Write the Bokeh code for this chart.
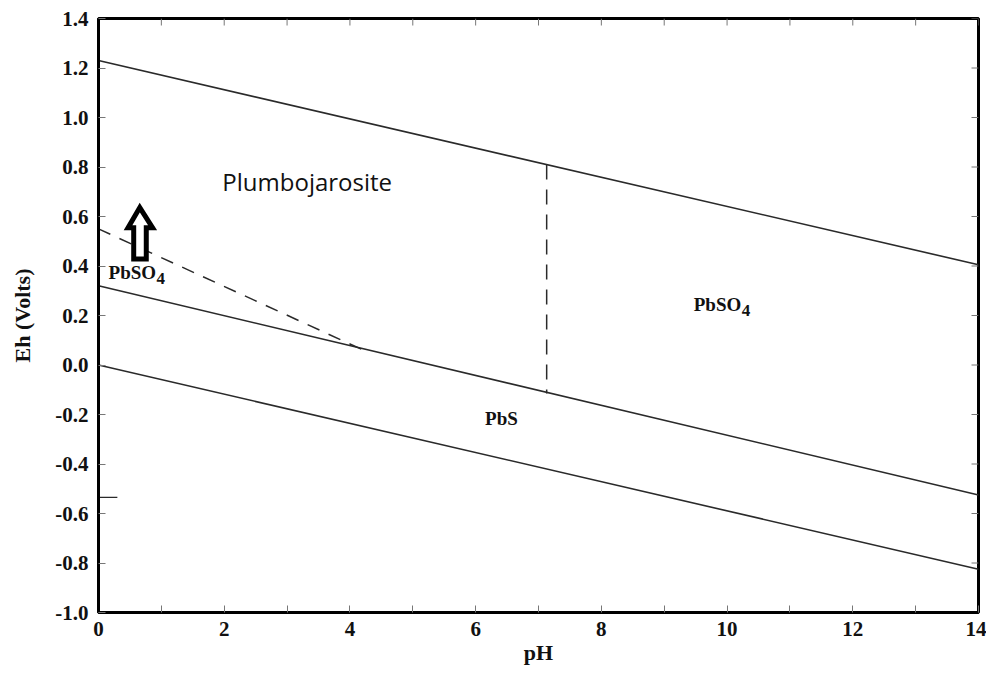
import math
from bokeh.plotting import figure
from bokeh.models import FixedTicker, PrintfTickFormatter, ColumnDataSource
from bokeh.core.properties import value
from bokeh.embed import file_html
from bokeh.resources import INLINE

# ---- data ----
x_ticks = [0, 2, 4, 6, 8, 10, 12, 14]
x_minor = [1, 3, 5, 7, 9, 11, 13]
y_ticks = [-1.0, -0.8, -0.6, -0.4, -0.2, 0.0, 0.2, 0.4, 0.6, 0.8, 1.0, 1.2, 1.4]

top_x = [0, 14]
top_y = [1.23, 0.405]
mid_x = [0, 14]
mid_y = [0.32, -0.525]
low_x = [0, 14]
low_y = [0.0, -0.825]
dash_diag_x = [0, 4.3]
dash_diag_y = [0.55, 0.05]
dash_vert_x = [7.13, 7.13]
dash_vert_y = [0.81, -0.115]
stub_x = [0, 0.3]
stub_y = [-0.535, -0.535]

arrow_x = [0.657, 0.86, 0.76, 0.76, 0.56, 0.56, 0.47]
arrow_y = [0.636, 0.555, 0.555, 0.428, 0.428, 0.555, 0.555]

label_names = ["PbSO", "PbSO", "PbS"]
label_x = [0.16, 9.47, 6.15]
label_y = [0.374, 0.244, -0.216]
sub_x = [0.16, 9.47]
sub_y = [0.374, 0.244]

title_text = ["Plumbojarosite"]
title_x = [1.97]
title_y = [0.741]

X_MIN, X_MAX = 0, 14
Y_MIN, Y_MAX = -1.0, 1.4

SERIF = "Liberation Serif"

p = figure(frame_width=880, frame_height=594,
           x_range=(X_MIN, X_MAX), y_range=(Y_MIN, Y_MAX),
           output_backend="svg", toolbar_location=None,
           x_axis_label="pH", y_axis_label="Eh (Volts)",
           min_border_left=98, min_border_right=8, min_border_top=18, min_border_bottom=0)
p.grid.visible = False
p.outline_line_color = "black"
p.outline_line_width = 3
p.background_fill_color = "white"
p.border_fill_color = "white"


def style(ax):
    ax.axis_line_color = "black"
    ax.axis_line_width = 3
    ax.major_tick_in = 7
    ax.major_tick_out = 0
    ax.minor_tick_in = 7
    ax.minor_tick_out = 0
    ax.major_tick_line_color = "#777777"
    ax.minor_tick_line_color = "#777777"
    ax.major_tick_line_width = 1
    ax.minor_tick_line_width = 1
    ax.major_label_text_font = SERIF
    ax.major_label_text_font_style = "bold"
    ax.major_label_text_font_size = "21px"
    ax.major_label_text_color = "#111111"
    ax.axis_label_text_font = SERIF
    ax.axis_label_text_font_style = "bold"
    ax.axis_label_text_font_size = "22px"
    ax.axis_label_text_color = "#111111"


xa = p.xaxis[0]
xa.ticker = FixedTicker(ticks=x_ticks, minor_ticks=x_minor)
style(xa)
xa.major_label_standoff = 9
xa.axis_label_standoff = 1

ya = p.yaxis[0]
ya.ticker = FixedTicker(ticks=y_ticks)
ya.formatter = PrintfTickFormatter(format="%.1f")
style(ya)
ya.major_label_standoff = 10
ya.axis_label_standoff = 17

# inner ticks on the top and right frame edges, from the tick arrays
top_tick_x = x_ticks + x_minor
p.ray(x=top_tick_x, y=[Y_MAX] * len(top_tick_x), length=7, length_units="screen",
      angle=-math.pi / 2, line_color="#777777", line_width=1)
p.ray(x=[X_MAX] * len(y_ticks), y=y_ticks, length=7, length_units="screen",
      angle=math.pi, line_color="#777777", line_width=1)

lc = "#2a2a2a"
p.line(top_x, top_y, line_color=lc, line_width=1.6)
p.line(mid_x, mid_y, line_color=lc, line_width=1.6)
p.line(low_x, low_y, line_color=lc, line_width=1.6)
p.line(dash_diag_x, dash_diag_y, line_color=lc, line_width=1.5, line_dash="13 10")
p.line(dash_vert_x, dash_vert_y, line_color=lc, line_width=1.5, line_dash="15 10")
p.line(stub_x, stub_y, line_color=lc, line_width=1.2)

p.patch(arrow_x, arrow_y, fill_color="white", line_color="black", line_width=5, line_join="miter")

src = ColumnDataSource(dict(x=label_x, y=label_y, t=label_names))
p.text(x="x", y="y", text="t", source=src, text_font=value(SERIF), text_font_style="bold",
       text_font_size="19px", text_color="#111111", text_align="left", text_baseline="middle")
p.text(x=sub_x, y=sub_y, text=["4", "4"], text_font=value(SERIF), text_font_style="bold",
       text_font_size="17px", text_color="#111111", text_align="left", text_baseline="middle",
       x_offset=48, y_offset=6)
p.text(x=title_x, y=title_y, text=title_text, text_font=value("Open Sans"),
       text_font_size="24px", text_color="#111111", text_align="left", text_baseline="middle")

open("out.html", "w").write(file_html(p, INLINE))
